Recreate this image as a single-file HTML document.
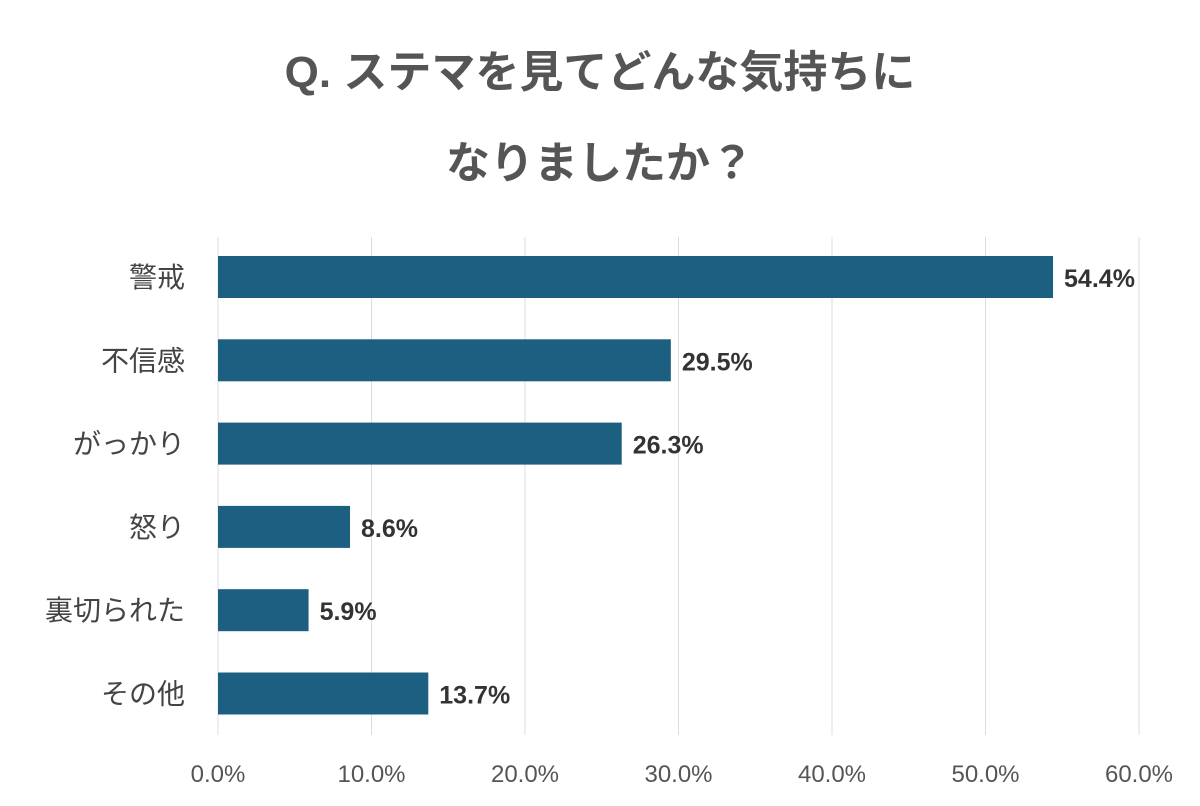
<!DOCTYPE html>
<html><head><meta charset="utf-8"><style>
html,body{margin:0;padding:0;background:#fff;}
svg{display:block;font-family:"Liberation Sans","Noto Sans CJK JP",sans-serif;}
</style></head><body>
<svg id="chart" width="1200" height="806">
<text x="600" y="87" text-anchor="middle" font-size="44" font-weight="bold" fill="#555">Q. ステマを見てどんな気持ちに</text>
<text x="600" y="178" text-anchor="middle" font-size="44" font-weight="bold" fill="#555">なりましたか？</text>
<g id="grid"></g><g id="bars"></g>
</svg>
<script>
const categories=["警戒","不信感","がっかり","怒り","裏切られた","その他"];
const values=[54.4,29.5,26.3,8.6,5.9,13.7];
const ticks=[0,10,20,30,40,50,60];
const ns="http://www.w3.org/2000/svg";
const x0=218,pxPer=15.35;
const xs=v=>x0+v*pxPer;
const yc=i=>277+i*83.3;
const grid=document.getElementById('grid'),bars=document.getElementById('bars');
function mk(t,a,p){const e=document.createElementNS(ns,t);for(const k in a)e.setAttribute(k,a[k]);p.appendChild(e);return e;}
ticks.forEach(t=>{
 const l=mk('line',{x1:xs(t),x2:xs(t),y1:237,y2:735,stroke:'#dcdce0','stroke-width':1},grid);
 
 
 const tx=mk('text',{x:xs(t),y:782,'text-anchor':'middle','font-size':24,fill:'#555'},grid);
 tx.textContent=t.toFixed(1)+'%';
 
 
});
categories.forEach((c,i)=>{
 const y=yc(i);
 const r=mk('rect',{x:x0,y:y-21,width:xs(values[i])-x0,height:42,fill:'#1c5f80'},bars);
 
 
 const lb=mk('text',{x:185,y:y+10,'text-anchor':'end','font-size':28,fill:'#444'},bars);
 lb.textContent=c;
 
 
 const vl=mk('text',{x:xs(values[i])+11,y:y+10,'font-size':25,'font-weight':'bold',fill:'#333'},bars);
 vl.textContent=values[i].toFixed(1)+'%';
 
 
});
</script>
</body></html>
